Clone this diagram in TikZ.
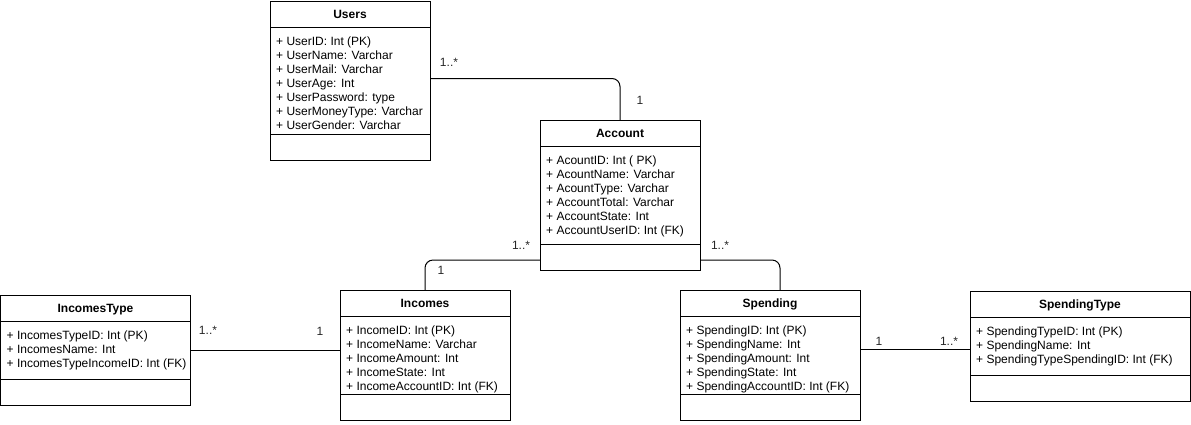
\documentclass[tikz,border=0pt]{standalone}
\usepackage{fontspec}
\setmainfont{Liberation Sans}
\usetikzlibrary{calc}
\tikzset{
  classbox/.style={draw=black, line width=1pt, fill=white, inner sep=0pt, outer sep=0pt, anchor=north west},
  divider/.style={draw=black, line width=1pt},
  titletext/.style={inner sep=0pt, anchor=base, font=\fontsize{12}{14}\selectfont\bfseries},
  attrtext/.style={inner sep=0pt, anchor=base west, font=\fontsize{12}{14}\selectfont},
  conn/.style={draw=black, line width=1pt, rounded corners=8pt},
  mult/.style={inner sep=0pt, font=\fontsize{12}{14}\selectfont, text=black!85}
}
% #1 name, #2 x, #3 y, #4 width, #5 height, #6 divider offset, #7 title, #8 attributes
\newcommand{\umlclassbox}[8]{%
  \node[classbox, minimum width=#4pt, minimum height=#5pt] (#1) at (#2,#3) {};
  \draw[divider] ([yshift=-26pt]#1.north west) -- ([yshift=-26pt]#1.north east);
  \draw[divider] ([yshift=-#6pt]#1.north west) -- ([yshift=-#6pt]#1.north east);
  \node[titletext] (#1-title) at ([yshift=-17.5pt]#1.north) {#7};
  \foreach \t [count=\i] in {#8} {
    \node[attrtext] (#1-a\i) at ([xshift=6pt, yshift={-(44+14*(\i-1))*1pt}]#1.north west) {\t};
  }%
}
\begin{document}
\begin{tikzpicture}[x=1pt, y=-1pt]
\useasboundingbox (0,0) rectangle (1191,424);

\umlclassbox{users}{270}{1}{160}{159}{133}{Users}{%
  + UserID: Int (PK), + UserName: Varchar, + UserMail: Varchar, + UserAge: Int,
  + UserPassword: type, + UserMoneyType: Varchar, + UserGender: Varchar}

\umlclassbox{account}{540}{120}{160}{150}{124}{Account}{%
  + AcountID: Int ( PK), + AcountName: Varchar, + AcountType: Varchar,
  + AccountTotal: Varchar, + AccountState: Int, + AccountUserID: Int (FK)}

\umlclassbox{incomes}{340}{290}{170}{130}{104}{Incomes}{%
  + IncomeID: Int (PK), + IncomeName: Varchar, + IncomeAmount: Int,
  + IncomeState: Int, + IncomeAccountID: Int (FK)}

\umlclassbox{incomestype}{0.5}{295}{190}{110}{84}{IncomesType}{%
  + IncomesTypeID: Int (PK), + IncomesName: Int, + IncomesTypeIncomeID: Int (FK)}

\umlclassbox{spending}{680}{290}{180}{130}{104}{Spending}{%
  + SpendingID: Int (PK), + SpendingName: Int, + SpendingAmount: Int,
  + SpendingState: Int, + SpendingAccountID: Int (FK)}

\umlclassbox{spendingtype}{970}{291}{220}{110}{84}{SpendingType}{%
  + SpendingTypeID: Int (PK), + SpendingName: Int, + SpendingTypeSpendingID: Int (FK)}

% connectors
\draw[conn] ([yshift=2pt]users.east) -| (account.north);
\draw[conn] ([yshift=10pt]account.south west) -| (incomes.north);
\draw[conn] ([yshift=10pt]account.south east) -| ([xshift=10pt]spending.north);
\draw[conn] (incomestype.east) -- (incomestype.east -| incomes.west);
\draw[conn] ([yshift=-3pt]spendingtype.west -| spending.east) -- ([yshift=-3pt]spendingtype.west);

% multiplicities
\node[mult] (m1) at (449,62) {1..*};
\node[mult] (m2) at (640,100) {1};
\node[mult] (m3) at (521,245) {1..*};
\node[mult] (m4) at (441,270) {1};
\node[mult] (m5) at (720,245) {1..*};
\node[mult] (m6) at (208,330) {1..*};
\node[mult] (m7) at (320,331) {1};
\node[mult] (m8) at (879,341) {1};
\node[mult] (m9) at (949,341) {1..*};
\end{tikzpicture}
\end{document}
